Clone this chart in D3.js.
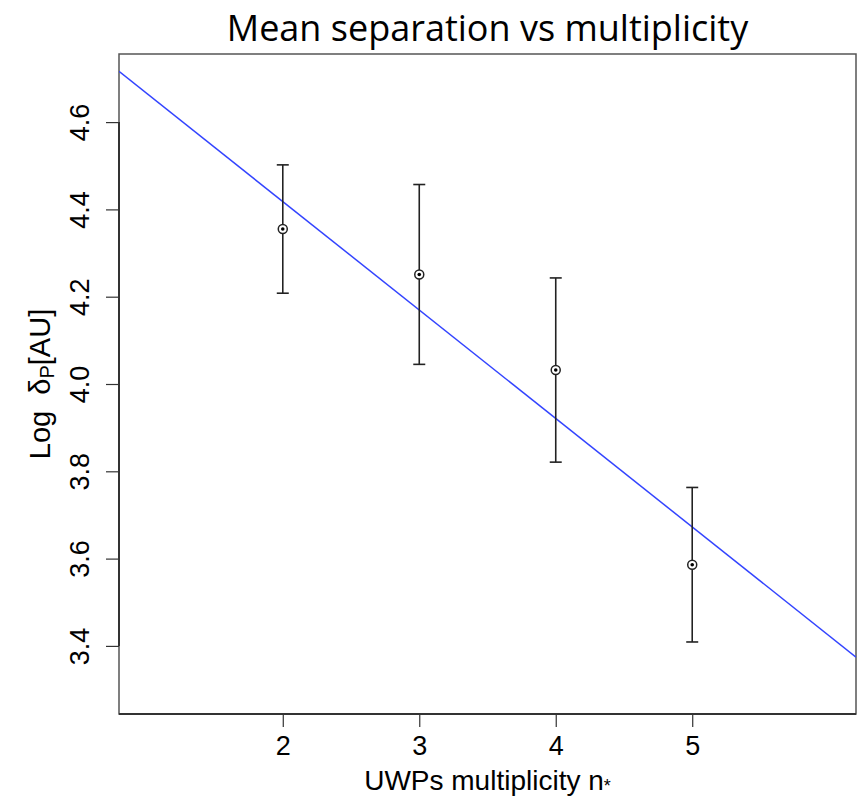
<!DOCTYPE html>
<html>
<head>
<meta charset="utf-8">
<script src="https://cdn.jsdelivr.net/npm/d3@7"></script>
<style>
  html, body { margin: 0; padding: 0; background: #fff; }
  svg { display: block; }
</style>
</head>
<body>
<svg id="chart" width="866" height="798"></svg>
<script>
// Multiplicity of the systems and the mean log separation per group
const multiplicity = [2, 3, 4, 5];
const meanLogSep = [4.355, 4.251, 4.032, 3.586];
const errHalf = [0.147, 0.206, 0.211, 0.177];

// Fitted straight line: log sep = intercept + slope * n
const fitIntercept = 4.915;
const fitSlope = -0.2485;

// Axis ticks
const xTicks = [2, 3, 4, 5];
const yTicks = [3.4, 3.6, 3.8, 4.0, 4.2, 4.4, 4.6];

// Data ranges (padded by 4% like the plotting default)
const xRange = [1, 6];
const yRange = [3.3, 4.7];

const svg = d3.select("#chart");
const plot = { left: 119, right: 856, top: 54, bottom: 714 };

function pad(r) {
  const d = (r[1] - r[0]) * 0.04;
  return [r[0] - d, r[1] + d];
}

const x = d3.scaleLinear().domain(pad(xRange)).range([plot.left, plot.right]);
const y = d3.scaleLinear().domain(pad(yRange)).range([plot.bottom, plot.top]);

const font = "'Liberation Sans', Arial, sans-serif";
const tickFont = 27;
const titleFont = 28;

// Title
svg.append("text")
  .attr("x", (plot.left + plot.right) / 2)
  .attr("y", 41)
  .attr("text-anchor", "middle")
  .attr("font-family", "'Open Sans', sans-serif")
  .attr("font-size", 36)
  .attr("fill", "#000")
  .text("Mean separation vs multiplicity");

// Plot box
svg.append("rect")
  .attr("x", plot.left)
  .attr("y", plot.top)
  .attr("width", plot.right - plot.left)
  .attr("height", plot.bottom - plot.top)
  .attr("fill", "none")
  .attr("stroke", "#555")
  .attr("stroke-width", 1.5);

// Clip region for the fitted line
svg.append("clipPath").attr("id", "plotClip")
  .append("rect")
  .attr("x", plot.left).attr("y", plot.top)
  .attr("width", plot.right - plot.left).attr("height", plot.bottom - plot.top);

// Bottom axis
const xAxis = d3.axisBottom(x)
  .tickValues(xTicks)
  .tickFormat(d3.format("d"))
  .tickSizeInner(13)
  .tickSizeOuter(0)
  .tickPadding(9);
const gx = svg.append("g")
  .attr("transform", `translate(0,${plot.bottom})`)
  .call(xAxis);
gx.select(".domain").remove();
gx.append("line")
  .attr("x1", plot.left).attr("x2", plot.right)
  .attr("y1", 0).attr("y2", 0)
  .attr("stroke", "#333").attr("stroke-width", 2);
gx.selectAll(".tick line").attr("stroke", "#333").attr("stroke-width", 1.2);
gx.selectAll(".tick text")
  .attr("font-family", font)
  .attr("font-size", tickFont)
  .attr("fill", "#000");

// Left axis
const yAxis = d3.axisLeft(y)
  .tickValues(yTicks)
  .tickFormat(d3.format(".1f"))
  .tickSizeInner(13)
  .tickSizeOuter(0);
const gy = svg.append("g")
  .attr("transform", `translate(${plot.left},0)`)
  .call(yAxis);
gy.select(".domain").remove();
gy.append("line")
  .attr("x1", 0).attr("x2", 0)
  .attr("y1", y(yTicks[0])).attr("y2", y(yTicks[yTicks.length - 1]))
  .attr("stroke", "#333").attr("stroke-width", 2);
gy.selectAll(".tick line").attr("stroke", "#333").attr("stroke-width", 1.2);
gy.selectAll(".tick text")
  .attr("font-family", font)
  .attr("font-size", tickFont)
  .attr("fill", "#000")
  .attr("x", null)
  .attr("text-anchor", "middle")
  .attr("transform", "translate(-39,0) rotate(-90)")
  .attr("dy", "0.35em");

// Axis titles
const xt = svg.append("text")
  .attr("x", (plot.left + plot.right) / 2)
  .attr("y", 790)
  .attr("text-anchor", "middle")
  .attr("font-family", font)
  .attr("font-size", titleFont)
  .attr("fill", "#000");
xt.append("tspan").text("UWPs multiplicity n");
xt.append("tspan").attr("font-size", 18).attr("dy", 2).text("*");

const yt = svg.append("text")
  .attr("transform", `translate(50,${y(4.0)}) rotate(-90)`)
  .attr("text-anchor", "middle")
  .attr("font-family", font)
  .attr("font-size", titleFont + 1)
  .attr("fill", "#000");
yt.append("tspan").text("Log\u00a0\u00a0δ");
yt.append("tspan").attr("font-size", 20).attr("dy", 4).text("P");
yt.append("tspan").attr("dy", -4).text("[AU]");

// Fitted line across the full plotting region
const xd = x.domain();
svg.append("line")
  .attr("clip-path", "url(#plotClip)")
  .attr("x1", x(xd[0])).attr("y1", y(fitIntercept + fitSlope * xd[0]))
  .attr("x2", x(xd[1])).attr("y2", y(fitIntercept + fitSlope * xd[1]))
  .attr("stroke", "#3344ff")
  .attr("stroke-width", 1.5);

// Error bars
const pts = multiplicity.map((n, i) => ({ n, m: meanLogSep[i], e: errHalf[i] }));
const eb = svg.append("g").attr("stroke", "#222").attr("stroke-width", 1.6);
eb.selectAll("line.bar").data(pts).join("line")
  .attr("class", "bar")
  .attr("x1", d => x(d.n)).attr("x2", d => x(d.n))
  .attr("y1", d => y(d.m + d.e)).attr("y2", d => y(d.m - d.e));
eb.selectAll("line.capTop").data(pts).join("line")
  .attr("class", "capTop")
  .attr("x1", d => x(d.n) - 6).attr("x2", d => x(d.n) + 6)
  .attr("y1", d => y(d.m + d.e)).attr("y2", d => y(d.m + d.e));
eb.selectAll("line.capBot").data(pts).join("line")
  .attr("class", "capBot")
  .attr("x1", d => x(d.n) - 6).attr("x2", d => x(d.n) + 6)
  .attr("y1", d => y(d.m - d.e)).attr("y2", d => y(d.m - d.e));

// Points: open circle with a central dot
svg.append("g").selectAll("circle.ring").data(pts).join("circle")
  .attr("class", "ring")
  .attr("cx", d => x(d.n)).attr("cy", d => y(d.m))
  .attr("r", 4.5)
  .attr("fill", "#fff")
  .attr("stroke", "#222")
  .attr("stroke-width", 1.5);
svg.append("g").selectAll("circle.dot").data(pts).join("circle")
  .attr("class", "dot")
  .attr("cx", d => x(d.n)).attr("cy", d => y(d.m))
  .attr("r", 1.8)
  .attr("fill", "#000");
</script>
</body>
</html>
